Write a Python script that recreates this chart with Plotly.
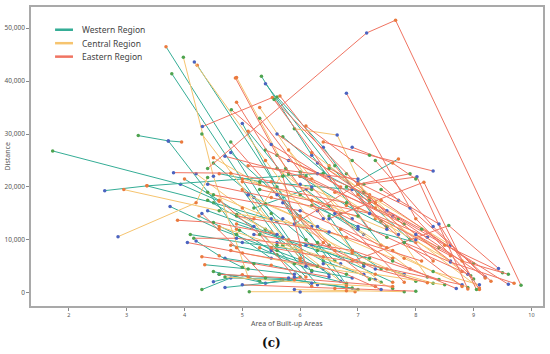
import plotly.graph_objects as go

# ---------------- data (area of built-up areas, distance) ----------------
west_x = [
    [1.72, 3.93, 4.6], [2.62, 3.35, 6.4], [3.35, 4.5, 5.6], [3.2, 3.72, 3.95],
    [3.72, 4.9], [3.68, 5.5, 6.2], [3.78, 5.2, 6.0], [3.75, 4.6, 6.3],
    [4.22, 5.6, 6.8], [5.33, 6.2, 7.4], [5.4, 6.5, 7.9], [4.35, 5.1, 5.9],
    [4.3, 4.8, 5.7], [4.5, 5.0, 5.3], [4.8, 5.6, 6.4], [4.1, 5.0, 6.0],
    [4.4, 5.8, 7.2], [4.6, 5.3, 6.9], [4.5, 6.2, 7.6], [5.0, 5.9, 6.6],
    [5.1, 6.0, 7.1], [5.6, 6.4, 7.3], [7.0, 7.7], [4.9, 6.3, 7.8],
    [5.2, 6.1, 7.0], [4.7, 5.5, 6.8], [5.5, 6.4, 7.3], [4.4, 5.2, 6.1],
    [6.0, 6.8, 7.5], [4.0, 5.4, 6.5], [5.7, 6.5, 7.2], [4.6, 5.8, 6.9],
    [5.3, 6.2, 6.9], [6.2, 7.0, 8.0], [4.8, 6.0, 7.4], [5.0, 5.7, 6.3],
    [6.5, 7.1], [4.2, 4.6, 5.0], [4.25, 4.9, 5.5], [4.5, 5.4, 6.0],
    [4.7, 5.9, 7.0], [5.5, 6.1, 6.7], [4.95, 5.5, 6.2],
]
west_y = [
    [26800, 20500, 17300], [19300, 20200, 22600], [20200, 17000, 13500], [29700, 28700, 28500],
    [28700, 12000], [46500, 15000, 4000], [41400, 18000, 6500], [16300, 12000, 5000],
    [43000, 20000, 1500], [40900, 26000, 9000], [39500, 24000, 10000], [5300, 4500, 3500],
    [600, 2800, 2500], [2100, 3400, 2200], [9000, 7200, 4500], [11000, 9500, 8000],
    [15500, 10000, 6500], [22500, 21000, 19500], [24500, 9000, 2000], [32000, 14000, 6000],
    [30500, 18500, 11000], [37000, 27500, 14000], [21000, 25300], [13000, 8000, 3500],
    [16000, 19500, 12000], [6500, 5200, 1800], [11500, 6000, 2500], [17500, 12500, 3000],
    [22000, 16500, 12500], [21500, 12000, 3500], [29500, 22000, 18000], [3500, 2600, 900],
    [8500, 4200, 2800], [16500, 12500, 9500], [26500, 14500, 4500], [19500, 9000, 1500],
    [14500, 5000], [9800, 7000, 4800], [14500, 11000, 6500], [4000, 1800, 3000],
    [1000, 2400, 600], [21000, 10000, 2200], [11800, 8000, 1200],
]

central_x = [
    [2.85, 4.2, 4.4], [2.95, 4.6, 6.2], [3.98, 4.5, 5.1], [4.17, 5.4, 6.5],
    [4.9, 5.8, 6.9], [5.9, 6.64, 7.2], [5.1, 6.0, 7.4], [4.5, 5.3, 6.3],
    [5.12, 6.0, 6.95], [5.9, 6.8, 7.8], [4.6, 5.6, 6.7], [5.6, 6.6, 7.9],
    [6.0, 7.0, 8.4], [4.8, 5.9, 7.1], [5.4, 6.3, 7.6], [6.3, 7.2, 8.2],
    [5.0, 6.5, 7.7], [4.3, 5.1, 6.0], [5.7, 6.9, 8.0], [6.6, 7.4, 8.6],
    [4.4, 5.5, 6.8], [7.0, 7.8, 8.9], [5.3, 6.1, 6.9], [4.7, 6.2, 7.3],
    [6.1, 7.5, 8.3], [5.8, 6.7], [7.2, 8.0, 9.1], [6.4, 7.3, 8.5],
    [5.2, 5.75], [6.8, 7.6, 8.8], [4.2, 5.0, 5.6], [7.6, 8.3, 9.1],
    [4.9, 5.7, 6.8], [5.6, 6.4, 7.6], [6.2, 7.1, 8.6],
]
central_y = [
    [10600, 17000, 21800], [19500, 15500, 12500], [44500, 22000, 3000], [43600, 25000, 9000],
    [40700, 22500, 8000], [31000, 29800, 17000], [18500, 14000, 2000], [25500, 20500, 15500],
    [200, 150, 200], [600, 400, 200], [12500, 9000, 5500], [23500, 15000, 4500],
    [20500, 16000, 8500], [8000, 5500, 3500], [16800, 12500, 6500], [24500, 18500, 3000],
    [21500, 16500, 11000], [30000, 18500, 6500], [14000, 7500, 2200], [19000, 13500, 6000],
    [19000, 14000, 10500], [12000, 6500, 1000], [35000, 22000, 14000], [3000, 1800, 1200],
    [9000, 4500, 1800], [27000, 15000], [17500, 10000, 900], [5500, 3500, 1500],
    [14000, 23500], [22500, 14500, 4000], [22500, 16000, 8000], [8000, 4000, 1500],
    [14800, 10500, 1300], [9500, 6800, 800], [26500, 19000, 9000],
]

east_x = [
    [4.4, 7.15, 7.65, 9.82], [6.8, 8.0, 8.95], [6.9, 8.57, 9.43], [7.1, 8.02, 8.9],
    [6.5, 8.14, 9.05], [4.88, 5.6, 6.4], [4.81, 5.5, 6.7], [4.31, 5.52, 7.2],
    [5.65, 6.6, 7.5], [5.55, 7.0, 8.3], [3.81, 4.8, 6.2], [3.88, 4.5, 5.6],
    [4.16, 4.9, 6.0], [4.05, 5.0, 6.3], [4.3, 5.2, 6.5], [4.5, 6.0, 7.5],
    [4.7, 6.2, 7.8], [5.0, 6.8, 8.2], [5.3, 7.2, 8.6], [5.8, 7.4, 9.0],
    [6.0, 7.7, 9.2], [4.9, 6.5, 8.1], [5.2, 6.9, 8.4], [5.5, 7.1, 8.8],
    [4.6, 5.8, 7.6], [5.0, 6.6, 8.0], [6.2, 7.5, 8.9], [6.5, 7.9, 9.3],
    [6.9, 7.6, 8.0], [7.0, 8.1, 9.6], [5.4, 6.3, 7.3], [4.4, 5.5, 7.0],
    [6.1, 6.9, 7.7], [7.3, 8.3, 9.2], [5.7, 6.4, 7.2], [6.7, 7.6, 8.7],
    [4.8, 5.6, 6.6], [5.9, 7.0, 7.9], [4.6, 5.3, 5.9], [6.3, 7.3, 8.2],
    [7.5, 8.5, 9.5], [5.1, 6.0, 7.0], [6.8, 7.8, 8.8], [4.3, 4.9, 5.4],
    [6.0, 6.8, 7.4], [7.8, 8.6, 9.7], [5.6, 7.3, 9.0], [4.9, 5.7, 6.1],
    [7.4, 8.4, 9.1], [8.0, 8.8, 9.6], [6.4, 7.2, 8.3], [5.3, 6.2, 7.8],
]
east_y = [
    [23500, 49100, 51500, 1400], [37700, 14000, 3200], [6000, 12700, 4600], [20500, 21900, 700],
    [14000, 20900, 600], [40600, 26000, 14000], [34600, 28000, 20000], [31400, 36900, 12000],
    [37200, 24000, 12000], [36500, 20500, 6000], [22700, 22600, 19500], [13700, 13300, 11000],
    [10300, 10300, 9000], [9500, 7500, 5000], [6800, 5500, 3000], [18500, 15500, 8500],
    [25800, 21500, 13000], [21000, 17000, 10500], [19500, 15000, 7000], [25000, 17500, 5500],
    [22000, 14000, 3000], [14500, 11500, 6000], [11000, 8000, 2500], [8500, 5500, 1500],
    [3500, 2800, 1200], [1500, 800, 300], [17500, 10500, 3500], [23500, 16000, 2200],
    [27500, 24500, 21500], [18500, 12000, 1600], [27000, 22500, 16000], [20500, 18000, 14500],
    [31500, 25000, 17500], [25000, 12500, 2800], [17000, 9500, 2500], [12000, 6000, 800],
    [28500, 18500, 8000], [13000, 20500, 22500], [17500, 11000, 3000], [9500, 4500, 1900],
    [15500, 9000, 3800], [24000, 22800, 21500], [20000, 9500, 1200], [15000, 8500, 2800],
    [6000, 3500, 600], [9500, 5800, 1800], [30000, 17000, 2600], [36000, 22000, 5000],
    [19500, 13000, 600], [11000, 6000, 3500], [28500, 26000, 23000], [33000, 20000, 2000],
]

regions = ["Western Region", "Central Region", "Eastern Region"]
x_ticks = [2, 3, 4, 5, 6, 7, 8, 9, 10]
y_ticks = [0, 10000, 20000, 30000, 40000, 50000]

# ---------------- style ----------------
line_colors = ["#35ad96", "#f6c46f", "#f07462"]
point_colors = ["#4ea34f", "#4b63c0", "#ea7a3e"]
FONT = "Noto Sans"

fig = go.Figure()
k = 0
for name, xs_all, ys_all, lc in zip(regions, [west_x, central_x, east_x],
                                    [west_y, central_y, east_y], line_colors):
    for xs, ys in zip(xs_all, ys_all):
        mc = [point_colors[(k + j) % 3] for j in range(len(xs))]
        k += 1
        fig.add_trace(go.Scatter(
            x=xs, y=ys, mode="lines+markers", showlegend=False,
            line=dict(color=lc, width=1.0),
            marker=dict(color=mc, size=3.5, line=dict(width=0)),
            hoverinfo="skip", name=name))

# legend drawn inside the plot (top-left), swatch lines + real text labels
shapes, annotations = [], []
leg_x0, leg_x1, leg_tx = 0.047, 0.082, 0.095
leg_rows = [0.924, 0.879, 0.834]
for name, lc, yy in zip(regions, line_colors, leg_rows):
    shapes.append(dict(type="line", xref="paper", yref="paper", x0=leg_x0, x1=leg_x1,
                       y0=yy, y1=yy, line=dict(color=lc, width=2.5)))
    annotations.append(dict(text=name, xref="paper", yref="paper", x=leg_tx, y=yy,
                            xanchor="left", yanchor="middle", showarrow=False,
                            font=dict(size=8.5, color="#444444", family=FONT)))

annotations += [
    dict(text="Distance", xref="paper", yref="paper", x=-0.045, y=0.5,
         xanchor="center", yanchor="middle",
         textangle=-90, showarrow=False, font=dict(size=7, color="#555555", family=FONT)),
    dict(text="Area of Built-up Areas", xref="paper", yref="paper", x=0.5, y=-0.06,
         xanchor="center", yanchor="middle",
         showarrow=False, font=dict(size=7, color="#555555", family=FONT)),
    dict(text="<b>(c)</b>", xref="paper", yref="paper", x=0.469, y=-0.123,
         xanchor="center", yanchor="middle",
         showarrow=False, font=dict(size=12, color="#111111", family="DejaVu Serif")),
]

axis_common = dict(showline=True, mirror=True, linecolor="#a9a9a9", linewidth=1.5,
                   showgrid=False, zeroline=False, ticks="outside", ticklen=3,
                   tickcolor="#888888", tickwidth=0.8)
fig.update_xaxes(range=[1.345, 10.2], tickvals=x_ticks,
                 tickfont=dict(size=5.5, color="#555555", family=FONT), **axis_common)
fig.update_yaxes(range=[-2500, 54000], tickvals=y_ticks, tickformat=",",
                 tickfont=dict(size=6.5, color="#555555", family=FONT), **axis_common)

fig.update_layout(
    width=550, height=354, margin=dict(l=31, r=5, t=5, b=48),
    paper_bgcolor="white", plot_bgcolor="white",
    font=dict(family=FONT, color="#444444"),
    showlegend=False,
    shapes=shapes, annotations=annotations,
)

fig.write_html("out.html", config={"displayModeBar": False},
               post_script="document.body.style.margin='0';")
